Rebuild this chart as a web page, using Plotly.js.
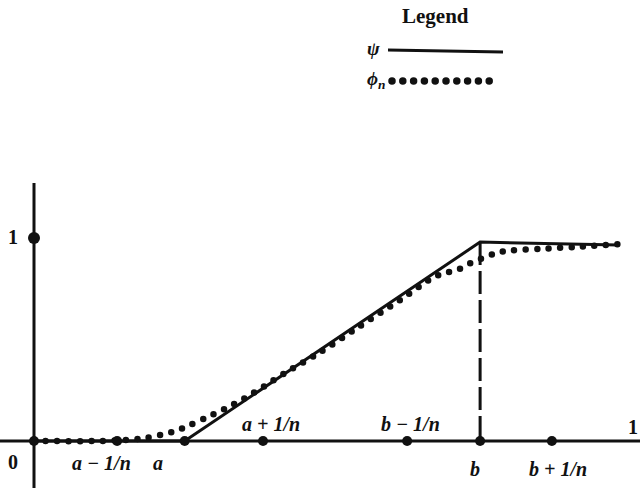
<!DOCTYPE html>
<html>
<head>
<meta charset="utf-8">
<script src="https://cdn.plot.ly/plotly-3.0.1.min.js"></script>
<style>html,body{margin:0;padding:0;background:#fff}#chart{width:640px;height:491px}</style>
</head>
<body>
<div id="chart"></div>
<script>
// ---- data (chart units: x in [0,1], y in [0,1]) ----
var a = 0.252, b = 0.746;
var tickNames  = ['0', 'a\u22121/n', 'a', 'a+1/n', 'b\u22121/n', 'b', 'b+1/n'];
var tickValues = [0, 0.139, a, 0.383, 0.624, b, 0.866];
var psiX = [0, a, b, 0.977];
var psiY = [0, 0, 0.980, 0.966];
var phiX = [0, 0.110, 0.152, 0.186, 0.211, 0.236, 0.261, 0.286, 0.319, 0.353, 0.386, 0.420, 0.478, 0.545, 0.612, 0.667, 0.687, 0.707, 0.724, 0.741, 0.751, 0.768, 0.788, 0.846, 0.905, 0.977];
var phiY = [0, 0, 0.005, 0.015, 0.030, 0.049, 0.079, 0.113, 0.158, 0.212, 0.271, 0.336, 0.436, 0.566, 0.694, 0.805, 0.828, 0.842, 0.867, 0.892, 0.901, 0.921, 0.936, 0.946, 0.956, 0.970];
var yTickValues = [1];
var yTickNames = ['1'];
var xEndValue = 1, xEndName = '1';
var legendTitle = 'Legend';
var legendNames = ['\u03C8', '\u03D5<sub>n</sub>'];

// ---- layout helpers ----
var X0 = 34, SX = 598, Y0 = 441, SY = 203, W = 640, H = 491;
var xr = [-X0 / SX, (W - X0) / SX];
var yr = [-(H - Y0) / SY, Y0 / SY];
var ink = '#111';
var serif = '"Liberation Serif", "DejaVu Serif", serif';

var traces = [
  // axes drawn as lines
  {x: [xr[0], xr[1]], y: [0, 0], mode: 'lines', line: {color: ink, width: 3}, hoverinfo: 'skip'},
  {x: [0, 0], y: [-0.232, 1.271], mode: 'lines', line: {color: ink, width: 3}, hoverinfo: 'skip'},
  // psi
  {x: psiX, y: psiY, mode: 'lines', line: {color: ink, width: 3}, name: 'psi'},
  // dashed drop at b
  {x: [b, b], y: [psiY[2], 0], mode: 'lines', line: {color: ink, width: 3, dash: '23px,6px'}, hoverinfo: 'skip'},
  // phi_n dotted
  {x: phiX, y: phiY, mode: 'lines', line: {color: ink, width: 6.5, dash: '0px,11.5px', shape: 'spline', smoothing: 0.8}, name: 'phi'},
  // points on axes
  {x: tickValues, y: tickValues.map(function(){return 0;}), mode: 'markers', marker: {color: ink, size: 10}, hoverinfo: 'skip'},
  {x: yTickValues.map(function(){return 0;}), y: yTickValues, mode: 'markers', marker: {color: ink, size: 12}, hoverinfo: 'skip'},
  // legend keys (pixel axes)
  {x: [388, 503], y: [50, 52], xaxis: 'x2', yaxis: 'y2', mode: 'lines', line: {color: ink, width: 3}, hoverinfo: 'skip'},
  {x: [392, 500], y: [81, 81], xaxis: 'x2', yaxis: 'y2', mode: 'lines', line: {color: ink, width: 7.5, dash: '0px,10.8px'}, hoverinfo: 'skip'}
];

var labFont = {family: serif, size: 20, color: ink};
var shifts = [[-21, -21], [-16, -22], [-27, -22], [8, 17], [3, 17], [-5, -28], [6, -28]];
var annotations = tickNames.map(function(t, i) {
  var txt = (i === 0) ? '<b>' + t + '</b>' : '<b><i>' + t.replace('+', ' + ').replace('\u2212', ' \u2212 ') + '</i></b>';
  return {x: tickValues[i], y: 0, xref: 'x', yref: 'y', text: txt, showarrow: false,
          xshift: shifts[i][0], yshift: shifts[i][1], font: labFont};
});
annotations.push({x: xEndValue, y: 0, xref: 'x', yref: 'y', text: '<b>' + xEndName + '</b>', showarrow: false, xshift: 1, yshift: 14, font: labFont});
yTickValues.forEach(function(v, i) {
  annotations.push({x: 0, y: v, xref: 'x', yref: 'y', text: '<b>' + yTickNames[i] + '</b>', showarrow: false, xshift: -21, yshift: 1, font: labFont});
});
annotations.push({x: 435, y: 16, xref: 'x2', yref: 'y2', text: '<b>' + legendTitle + '</b>', showarrow: false, font: {family: serif, size: 21, color: ink}});
annotations.push({x: 373, y: 48, xref: 'x2', yref: 'y2', text: '<b><i>' + legendNames[0] + '</i></b>', showarrow: false, font: {family: serif, size: 19, color: ink}});
annotations.push({x: 376, y: 80, xref: 'x2', yref: 'y2', text: '<b><i>' + legendNames[1] + '</i></b>', showarrow: false, font: {family: serif, size: 19, color: ink}});

var layout = {
  width: W, height: H,
  margin: {l: 0, r: 0, t: 0, b: 0, pad: 0},
  paper_bgcolor: '#fff', plot_bgcolor: '#fff',
  showlegend: false,
  xaxis: {range: xr, visible: false, showgrid: false, zeroline: false, fixedrange: true},
  yaxis: {range: yr, visible: false, showgrid: false, zeroline: false, fixedrange: true},
  xaxis2: {range: [0, W], visible: false, overlaying: 'x', anchor: 'y2', fixedrange: true},
  yaxis2: {range: [H, 0], visible: false, overlaying: 'y', anchor: 'x2', fixedrange: true},
  annotations: annotations
};

Plotly.newPlot('chart', traces, layout, {staticPlot: true}).then(function(gd) {
  gd.querySelectorAll('path.js-line').forEach(function(p) {
    if ((p.style.strokeDasharray || '').indexOf('0px') === 0) p.style.strokeLinecap = 'round';
  });
});
</script>
</body>
</html>
